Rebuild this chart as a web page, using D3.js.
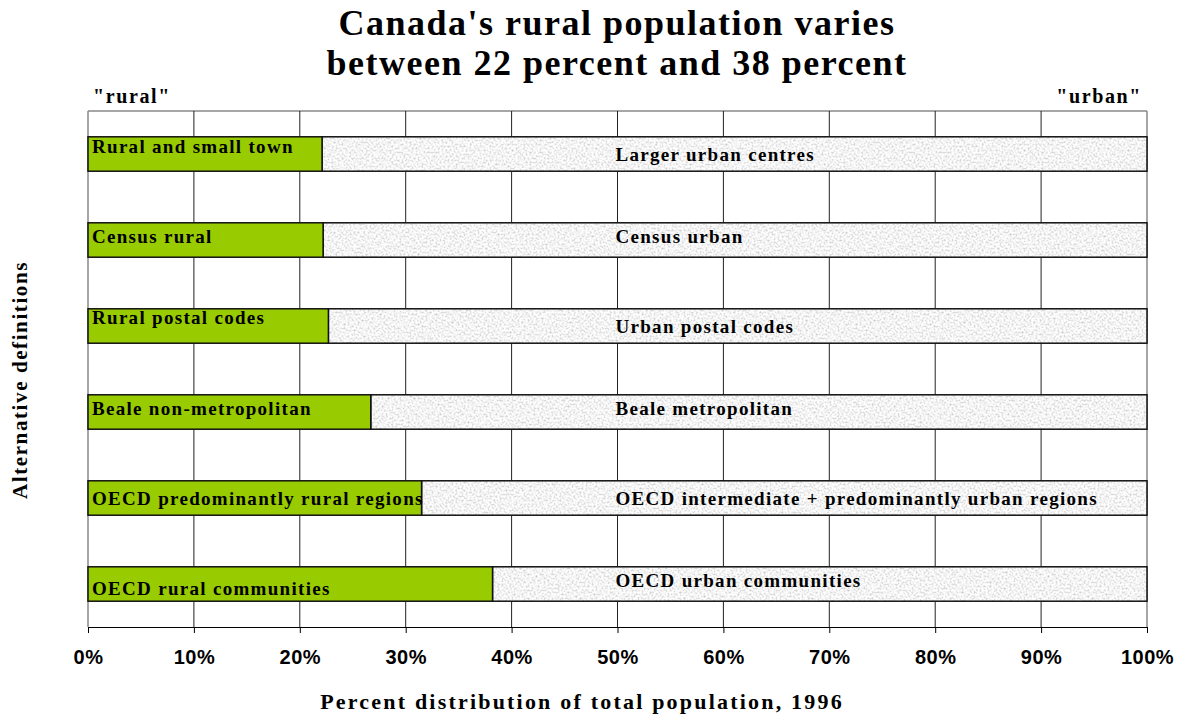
<!DOCTYPE html>
<html>
<head>
<meta charset="utf-8">
<script src="https://cdn.jsdelivr.net/npm/d3@7"></script>
<style>
  body { margin: 0; background: #fff; }
  .serif { font-family: "Liberation Serif", "Times New Roman", serif; font-weight: bold; }
  .sans { font-family: "Liberation Sans", Arial, sans-serif; font-weight: bold; }
</style>
</head>
<body>
<div id="chart"></div>
<script>
// data
const ruralLabels = ["Rural and small town", "Census rural", "Rural postal codes",
    "Beale non-metropolitan", "OECD predominantly rural regions", "OECD rural communities"];
const urbanLabels = ["Larger urban centres", "Census urban", "Urban postal codes",
    "Beale metropolitan", "OECD intermediate + predominantly urban regions", "OECD urban communities"];
const ruralShare = [22.1, 22.2, 22.7, 26.7, 31.5, 38.2];
const xTicks = [0, 10, 20, 30, 40, 50, 60, 70, 80, 90, 100];

// label nudges (layout only)
const ruralDy = [-8, -4, -9, -4, 0, 4];
const urbanDy = [0, -4, 0, -4, 0, -4];

const W = 1181, H = 715;
const margin = { left: 88, right: 34, top: 111, bottom: 88 };

const svg = d3.select("#chart").append("svg")
    .attr("width", W).attr("height", H);

// speckled grey texture for urban part
const defs = svg.append("defs");
const f = defs.append("filter").attr("id", "speckle")
    .attr("x", 0).attr("y", 0).attr("width", 1).attr("height", 1);
f.append("feTurbulence").attr("type", "fractalNoise")
    .attr("baseFrequency", 0.5).attr("numOctaves", 3).attr("seed", 7).attr("result", "n");
f.append("feColorMatrix").attr("in", "n").attr("type", "matrix")
    .attr("values", "0.9 0 0 0 0.45  0.9 0 0 0 0.45  0.9 0 0 0 0.45  0 0 0 0 1")
    .attr("result", "g");
f.append("feComposite").attr("in", "g").attr("in2", "SourceGraphic").attr("operator", "in");

const x = d3.scaleLinear().domain([0, 100]).range([margin.left, W - margin.right]);
const y = d3.scaleBand().domain(ruralLabels).range([margin.top, H - margin.bottom]).paddingInner(0.6).paddingOuter(0.3);

// frame + gridlines
const yTop = margin.top, yBot = H - margin.bottom;
svg.append("line").attr("x1", x(0)).attr("x2", x(100)).attr("y1", yTop).attr("y2", yTop)
    .attr("stroke", "#888").attr("stroke-width", 1.5);
svg.append("g").selectAll("line").data(xTicks).join("line")
    .attr("x1", d => x(d)).attr("x2", d => x(d))
    .attr("y1", yTop).attr("y2", yBot)
    .attr("stroke", d => (d === 0 || d === 100) ? "#888" : "#222")
    .attr("stroke-width", d => (d === 0 || d === 100) ? 1.5 : 1);

// x axis
const xAxis = svg.append("g")
    .attr("transform", `translate(0,${yBot})`)
    .call(d3.axisBottom(x).tickValues(xTicks).tickSize(6).tickSizeOuter(0).tickFormat(d => d + "%"));
xAxis.select(".domain").attr("stroke", "#000").attr("stroke-width", 1.2);
xAxis.selectAll(".tick line").attr("stroke", "#000");
xAxis.selectAll(".tick text").attr("class", "sans").attr("font-size", 20)
    .attr("letter-spacing", 0.5).attr("fill", "#000").attr("y", 37).attr("dy", 0);

// bars
const rows = svg.append("g").selectAll("g").data(ruralLabels).join("g");
rows.append("rect")
    .attr("x", (d, i) => x(ruralShare[i])).attr("y", d => y(d))
    .attr("width", (d, i) => x(100) - x(ruralShare[i])).attr("height", y.bandwidth())
    .attr("fill", "#eee").attr("filter", "url(#speckle)");
rows.append("rect")
    .attr("x", (d, i) => x(ruralShare[i])).attr("y", d => y(d))
    .attr("width", (d, i) => x(100) - x(ruralShare[i])).attr("height", y.bandwidth())
    .attr("fill", "none").attr("stroke", "#111").attr("stroke-width", 1.5);
rows.append("rect")
    .attr("x", x(0)).attr("y", d => y(d))
    .attr("width", (d, i) => x(ruralShare[i]) - x(0)).attr("height", y.bandwidth())
    .attr("fill", "#99cc00").attr("stroke", "#111").attr("stroke-width", 1.5);
rows.append("text").attr("class", "serif")
    .attr("x", x(0) + 4).attr("y", (d, i) => y(d) + y.bandwidth() / 2 + ruralDy[i])
    .attr("dy", "0.35em").attr("font-size", 19).attr("letter-spacing", 1.3)
    .text(d => d);
rows.append("text").attr("class", "serif")
    .attr("x", x(50) - 2).attr("y", (d, i) => y(d) + y.bandwidth() / 2 + urbanDy[i])
    .attr("dy", "0.35em").attr("font-size", 19).attr("letter-spacing", 1.3)
    .text((d, i) => urbanLabels[i]);

// titles
const title = svg.append("text").attr("class", "serif").attr("text-anchor", "middle")
    .attr("font-size", 36).attr("letter-spacing", 1.5);
title.append("tspan").attr("x", 617).attr("y", 35).text("Canada's rural population varies");
title.append("tspan").attr("x", 617).attr("y", 75).text("between 22 percent and 38 percent");

svg.append("text").attr("class", "serif").attr("x", 93).attr("y", 103)
    .attr("font-size", 20).attr("letter-spacing", 1.6).text("\"rural\"");
svg.append("text").attr("class", "serif").attr("x", 1142).attr("y", 103).attr("text-anchor", "end")
    .attr("font-size", 20).attr("letter-spacing", 1.6).text("\"urban\"");

svg.append("text").attr("class", "serif").attr("text-anchor", "middle")
    .attr("x", 582).attr("y", 709).attr("font-size", 22).attr("letter-spacing", 2.2)
    .text("Percent distribution of total population, 1996");

svg.append("text").attr("class", "serif").attr("text-anchor", "middle")
    .attr("transform", "translate(27,380) rotate(-90)")
    .attr("font-size", 21).attr("letter-spacing", 1.6)
    .text("Alternative definitions");
</script>
</body>
</html>
